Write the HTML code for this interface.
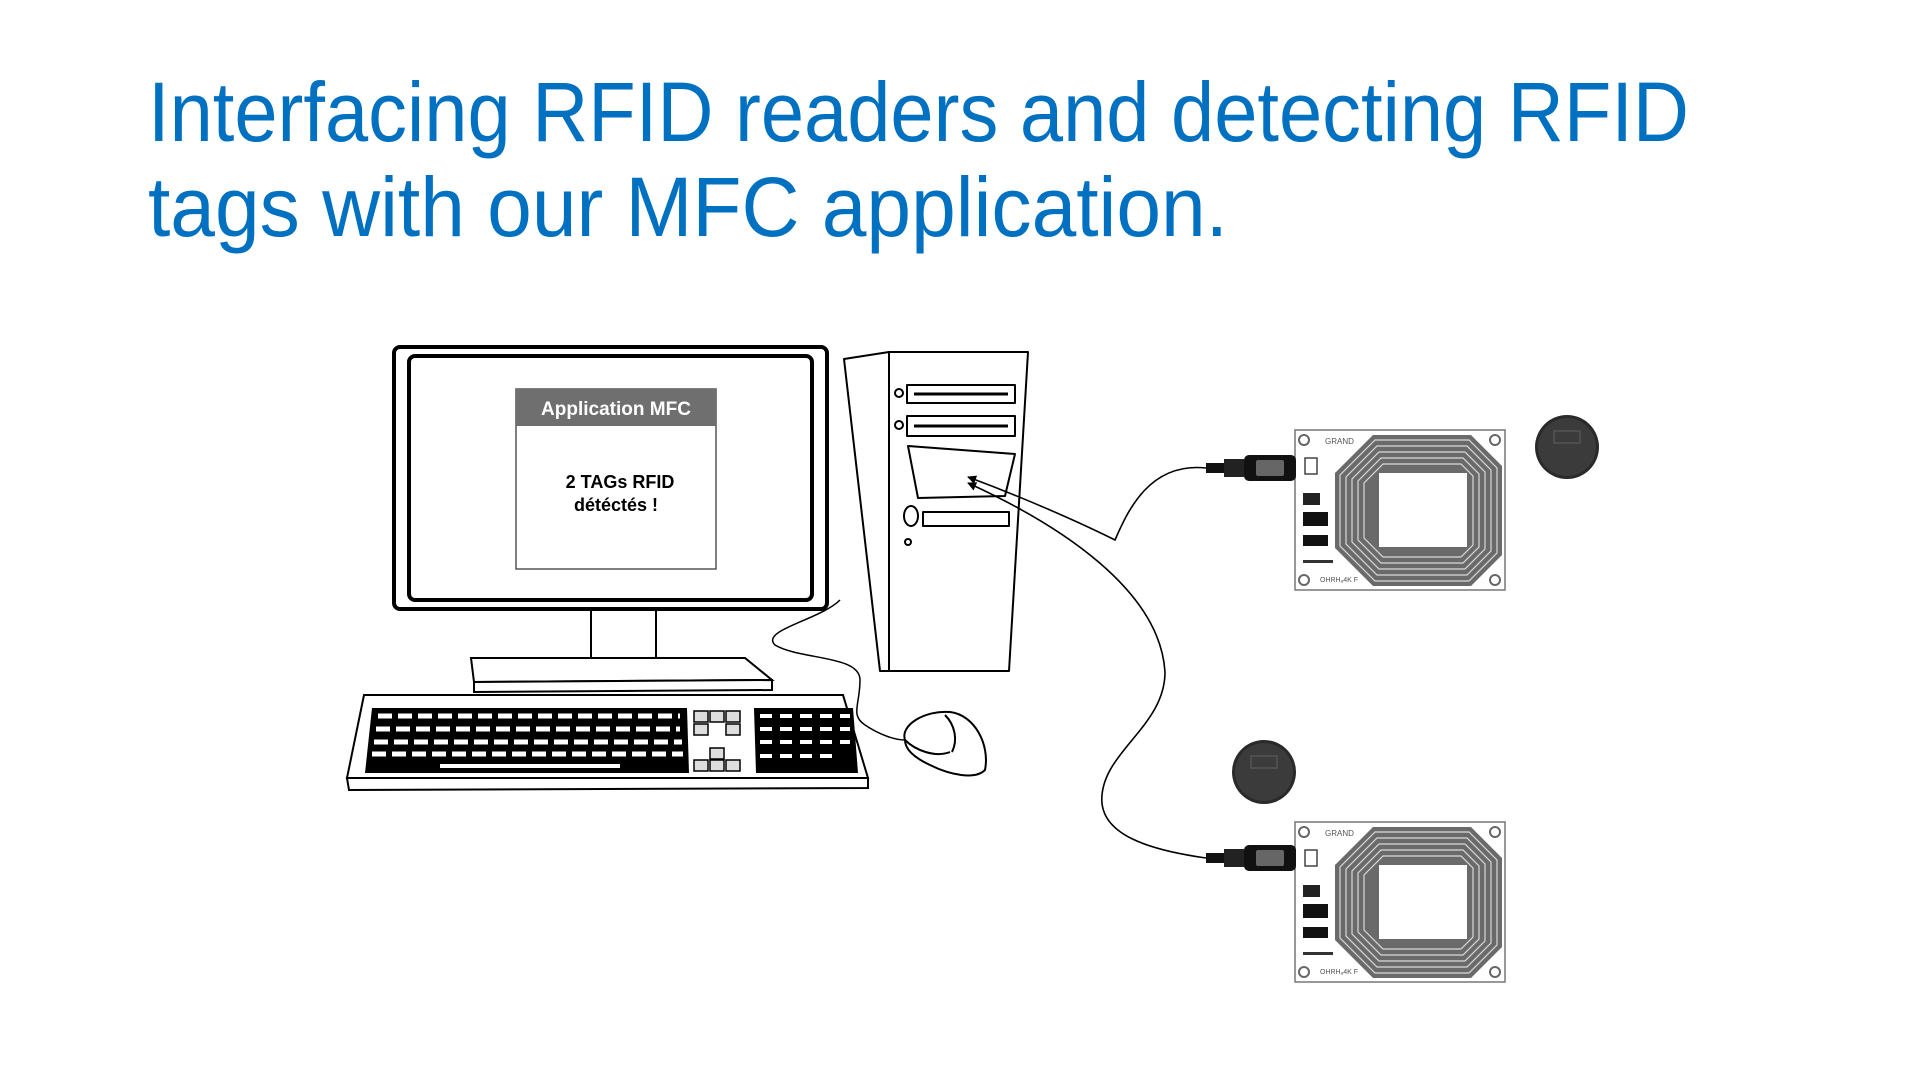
<!DOCTYPE html>
<html><head><meta charset="utf-8"><style>
html,body{margin:0;padding:0;background:#fff;width:1920px;height:1080px;overflow:hidden}
svg{display:block}
</style></head><body>
<svg width="1920" height="1080" viewBox="0 0 1920 1080" xmlns="http://www.w3.org/2000/svg">
<defs>
<marker id="ar" viewBox="0 0 10 10" refX="9" refY="5" markerWidth="9" markerHeight="9" orient="auto-start-reverse" markerUnits="userSpaceOnUse"><path d="M0,0 L10,5 L0,10 z" fill="#000"/></marker>
<g id="reader">
 <rect x="0" y="0" width="210" height="160" fill="#fff" stroke="#777" stroke-width="1.5"/>
 <circle cx="9" cy="10" r="5" fill="none" stroke="#666" stroke-width="2"/>
 <circle cx="200" cy="10" r="5" fill="none" stroke="#666" stroke-width="2"/>
 <circle cx="9" cy="150" r="5" fill="none" stroke="#666" stroke-width="2"/>
 <circle cx="200" cy="150" r="5" fill="none" stroke="#666" stroke-width="2"/>
 <text x="30" y="14" font-family="Liberation Sans,sans-serif" font-size="8" fill="#555">GRAND</text>
 <text x="25" y="152" font-family="Liberation Sans,sans-serif" font-size="7" fill="#555">OHRHₐ4K F</text>
 <polygon points="78,5 176,5 207,36 207,125 176,156 78,156 40,118 40,43" fill="#6a6a6a"/>
 <g stroke="#fff" stroke-width="1.2" fill="none" opacity="0.75">
  <polygon points="80,10 174,10 202,38 202,123 174,151 80,151 45,116 45,45"/>
  <polygon points="82,16 172,16 196,40 196,121 172,145 82,145 51,114 51,47"/>
  <polygon points="84,22 170,22 190,42 190,119 170,139 84,139 57,112 57,49"/>
  <polygon points="86,28 168,28 184,44 184,117 168,133 86,133 63,110 63,51"/>
  <polygon points="88,34 166,34 178,46 178,115 166,127 88,127 69,108 69,53"/>
 </g>
 <rect x="84" y="43" width="88" height="74" fill="#fff"/>
 <rect x="8" y="63" width="17" height="12" fill="#222"/>
 <rect x="8" y="82" width="25" height="14" fill="#111"/>
 <rect x="8" y="105" width="25" height="11" fill="#111"/>
 <rect x="8" y="130" width="30" height="3" fill="#333"/>
 <rect x="10" y="28" width="12" height="16" fill="none" stroke="#444" stroke-width="1.5"/>
</g>
<g id="plug">
 <rect x="0" y="-5" width="18" height="10" fill="#111"/>
 <rect x="18" y="-9" width="20" height="18" fill="#222"/>
 <rect x="38" y="-13" width="52" height="26" rx="5" fill="#111"/>
 <rect x="50" y="-8" width="28" height="16" rx="2" fill="#666"/>
</g>
<g id="tag">
 <circle r="32" fill="#2a2a2a"/>
 <circle r="29" fill="#3b3b3b"/>
 <rect x="-13" y="-16" width="26" height="12" fill="none" stroke="#555" stroke-width="1.5"/>
</g>
</defs>

<text x="148" y="141" font-family="Liberation Sans,sans-serif" font-size="84" fill="#0070C0" textLength="1541" lengthAdjust="spacingAndGlyphs">Interfacing RFID readers and detecting RFID</text>
<text x="148" y="236" font-family="Liberation Sans,sans-serif" font-size="84" fill="#0070C0" textLength="1080" lengthAdjust="spacingAndGlyphs">tags with our MFC application.</text>

<!-- tower -->
<g stroke="#000" stroke-width="2" fill="#fff" stroke-linejoin="round">
 <polygon points="844,359 889,352 889,671 880,671"/>
 <polygon points="889,352 1028,352 1009,671 889,671"/>
 <rect x="907" y="385" width="108" height="18"/>
 <line x1="914" y1="394" x2="1008" y2="394" stroke-width="3"/>
 <rect x="907" y="416" width="108" height="20"/>
 <line x1="914" y1="426" x2="1008" y2="426" stroke-width="3"/>
 <circle cx="899" cy="393" r="4"/>
 <circle cx="899" cy="425" r="4"/>
 <polygon points="908,446 1015,454 1005,496 918,498"/>
 <rect x="923" y="512" width="86" height="14"/>
 <ellipse cx="911" cy="516" rx="7" ry="10"/>
 <circle cx="908" cy="542" r="3"/>
</g>
<path d="M840,600 C820,620 760,630 775,645 C800,660 860,655 860,680 C860,705 850,715 865,725 C880,735 895,740 905,740" fill="none" stroke="#000" stroke-width="1.5"/>

<!-- monitor -->
<rect x="394" y="347" width="433" height="262" rx="6" fill="#fff" stroke="#000" stroke-width="4"/>
<rect x="409" y="356" width="403" height="244" rx="6" fill="#fff" stroke="#000" stroke-width="4"/>
<rect x="516" y="389" width="200" height="180" fill="#fff" stroke="#555" stroke-width="1.5"/>
<rect x="516" y="389" width="200" height="37" fill="#6f6f6f"/>
<text x="616" y="415" text-anchor="middle" font-family="Liberation Sans,sans-serif" font-weight="bold" font-size="19" fill="#fff">Application MFC</text>
<text x="620" y="488" text-anchor="middle" font-family="Liberation Sans,sans-serif" font-weight="bold" font-size="18" fill="#000">2 TAGs RFID</text>
<text x="616" y="511" text-anchor="middle" font-family="Liberation Sans,sans-serif" font-weight="bold" font-size="18" fill="#000">détéctés !</text>
<g stroke="#000" stroke-width="2" fill="#fff">
 <path d="M591,609 L591,662 M656,609 L656,662"/>
 <polygon points="471,658 745,658 772,680 474,682"/>
 <polygon points="474,682 772,680 772,690 474,692"/>
</g>
<!-- keyboard -->
<g stroke="#000" stroke-width="2" fill="#fff">
 <polygon points="364,695 843,695 868,778 347,778"/>
 <polygon points="347,778 868,778 868,788 349,790"/>
</g>
<polygon points="372,708 687,708 689,773 365,773" fill="#000"/>
<g stroke="#fff" stroke-width="5" stroke-dasharray="14 6">
 <line x1="378" y1="716" x2="680" y2="716"/>
 <line x1="376" y1="729" x2="680" y2="729"/>
 <line x1="374" y1="742" x2="682" y2="742"/>
 <line x1="372" y1="754" x2="683" y2="754"/>
</g>
<line x1="440" y1="766" x2="620" y2="766" stroke="#fff" stroke-width="4"/>
<polygon points="754,708 853,708 858,773 756,773" fill="#000"/>
<g stroke="#fff" stroke-width="4" stroke-dasharray="12 8">
 <line x1="760" y1="716" x2="850" y2="716"/>
 <line x1="760" y1="729" x2="850" y2="729"/>
 <line x1="760" y1="742" x2="850" y2="742"/>
 <line x1="760" y1="756" x2="835" y2="756"/>
</g>
<g fill="#ddd" stroke="#000" stroke-width="1.5">
 <rect x="694" y="711" width="14" height="11"/><rect x="710" y="711" width="14" height="11"/><rect x="726" y="711" width="14" height="11"/>
 <rect x="694" y="724" width="14" height="11"/><rect x="726" y="724" width="14" height="11"/>
 <rect x="710" y="748" width="14" height="11"/>
 <rect x="694" y="760" width="14" height="11"/><rect x="710" y="760" width="14" height="11"/><rect x="726" y="760" width="14" height="11"/>
</g>
<g stroke="#000" stroke-width="2" fill="#fff">
 <path d="M905,740 C900,725 925,710 950,712 C975,715 990,745 985,770 C975,780 950,775 930,765 C915,758 905,750 905,740 Z"/>
 <path d="M905,740 C915,750 935,758 950,752" fill="none"/>
 <path d="M945,715 C955,725 958,740 952,752" fill="none"/>
</g>

<path d="M1206,468 C1150,462 1128,510 1115,540 C1085,525 1030,500 968,477" fill="none" stroke="#000" stroke-width="1.6" marker-end="url(#ar)"/>
<path d="M1206,858 C1150,850 1098,835 1102,795 C1106,750 1165,725 1165,672 C1160,590 1060,525 968,483" fill="none" stroke="#000" stroke-width="1.6" marker-end="url(#ar)"/>

<use href="#reader" x="1295" y="430"/>
<use href="#reader" x="1295" y="822"/>
<use href="#plug" x="1206" y="468"/>
<use href="#plug" x="1206" y="858"/>
<use href="#tag" x="1567" y="447"/>
<use href="#tag" x="1264" y="772"/>
</svg>
</body></html>
